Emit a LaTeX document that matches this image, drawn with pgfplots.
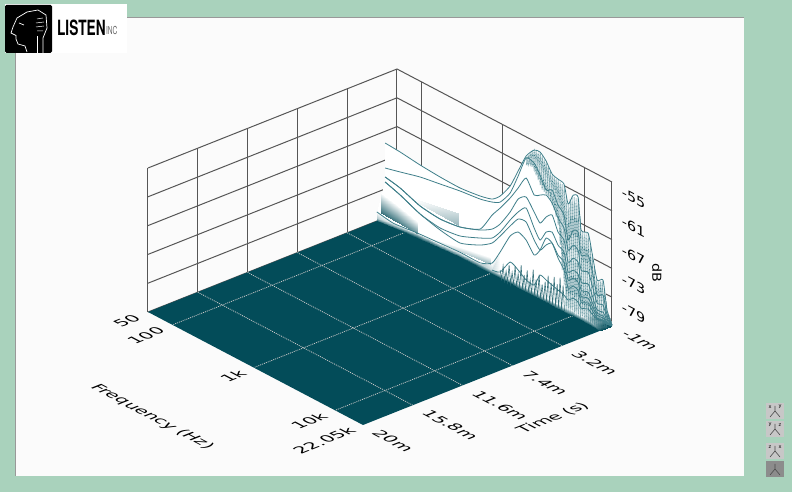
\documentclass[border=0pt]{standalone}
\usepackage{fontspec}
\setmainfont{DejaVu Sans}
\newfontfamily\logofont{TeX Gyre Heros}
\usepackage{pgfplots}
\usepackage{pgfplotstable}
\pgfplotsset{compat=1.18}

\definecolor{pagegreen}{HTML}{A9D2BC}
\definecolor{panel}{HTML}{FBFBFB}
\definecolor{floorc}{HTML}{034C59}
\definecolor{slicec}{HTML}{3F7F8A}
\definecolor{wallc}{HTML}{565656}

% waterfall: s = slice (0 is the base on the floor), lf = log10(Hz), t in ms, z in dB
\pgfplotstableread[row sep=\\]{
s lf t z\\
0 1.699 .7 -85\\ 0 1.8835 .55 -85\\ 0 2.1295 .3 -85\\ 0 2.3755 .15 -85\\ 0 2.6215 0 -85\\ 0 2.8675 0 -85\\ 0 3.015 0 -85\\ 0 3.1135 0 -85\\ 0 3.2365 0 -85\\ 0 3.335 0 -85\\ 0 3.433 0 -85\\ 0 3.532 0 -85\\ 0 3.605 0 -85\\ 0 3.679 0 -85\\ 0 3.743 0 -85\\ 0 3.803 0 -85\\ 0 3.863 0 -85\\ 0 3.9036 0 -85\\ 0 3.9538 0 -85\\ 0 4.004 0 -85\\ 0 4.034 0 -85\\ 0 4.104 0 -85\\ 0 4.144 0 -85\\ 0 4.194 0 -85\\ 0 4.254 0 -85\\ 0 4.294 0 -85\\ 0 4.3434 0 -85\\
.5 1.699 .7 -84.7\\ .5 1.8835 .55 -84.7\\ .5 2.1295 .3 -84.7\\ .5 2.3755 .15 -84.7\\ .5 2.6215 0 -84.7\\ .5 2.8675 0 -84.7\\ .5 3.015 0 -84.6\\ .5 3.1135 0 -84\\ .5 3.2365 0 -84\\ .5 3.335 0 -84\\ .5 3.433 0 -84\\ .5 3.532 0 -84\\ .5 3.605 0 -84\\ .5 3.679 0 -84\\ .5 3.743 0 -84\\ .5 3.803 0 -84\\ .5 3.863 0 -84\\ .5 3.9036 0 -84\\ .5 3.9538 0 -84\\ .5 4.004 0 -84\\ .5 4.034 0 -84\\ .5 4.104 0 -84\\ .5 4.144 0 -84\\ .5 4.194 0 -84.2\\ .5 4.254 0 -84.4\\ .5 4.294 0 -84.7\\ .5 4.3434 0 -85\\
1 1.699 .7 -84.3\\ 1 1.8835 .55 -84.3\\ 1 2.1295 .3 -84.3\\ 1 2.3755 .15 -84.3\\ 1 2.6215 0 -84.3\\ 1 2.8675 0 -84.3\\ 1 3.015 0 -84.2\\ 1 3.1135 0 -83.73\\ 1 3.2365 0 -80.54\\ 1 3.335 0 -81.33\\ 1 3.433 0 -82.54\\ 1 3.532 0 -82.71\\ 1 3.605 0 -79.98\\ 1 3.679 0 -80.35\\ 1 3.743 -.07 -80.92\\ 1 3.803 -.16 -81.52\\ 1 3.863 -.25 -82.1\\ 1 3.9036 -.32 -82.85\\ 1 3.9538 -.4 -82.08\\ 1 4.004 -.47 -82.54\\ 1 4.034 -.52 -83.56\\ 1 4.104 -.63 -83.25\\ 1 4.144 -.69 -84\\ 1 4.194 -.77 -84.67\\ 1 4.254 -.86 -84.65\\ 1 4.294 -.92 -85\\ 1 4.3434 -1 -85\\
2 1.699 .7 -83.1\\ 2 1.8835 .55 -84\\ 2 2.1295 .3 -84\\ 2 2.3755 .15 -84\\ 2 2.6215 0 -84\\ 2 2.8675 0 -84\\ 2 3.015 0 -82.73\\ 2 3.1135 0 -79.56\\ 2 3.2365 0 -75.12\\ 2 3.335 0 -73.42\\ 2 3.433 0 -74.21\\ 2 3.532 0 -76.46\\ 2 3.605 0 -74.77\\ 2 3.679 0 -71.6\\ 2 3.743 -.07 -72.17\\ 2 3.803 -.16 -74.85\\ 2 3.863 -.25 -76.9\\ 2 3.9036 -.32 -80.35\\ 2 3.9538 -.4 -79.58\\ 2 4.004 -.47 -80.04\\ 2 4.034 -.52 -82.31\\ 2 4.104 -.63 -82\\ 2 4.144 -.69 -83.17\\ 2 4.194 -.77 -84.46\\ 2 4.254 -.86 -84.44\\ 2 4.294 -.92 -84.98\\ 2 4.3434 -1 -84.81\\
3 1.699 0 -77.56\\ 3 1.8835 0 -78.62\\ 3 2.1295 0 -80.4\\ 3 2.3755 0 -81.54\\ 3 2.6215 0 -82.06\\ 3 2.8675 0 -80.29\\ 3 3.015 0 -78.56\\ 3 3.1135 0 -76.23\\ 3 3.2365 0 -73.04\\ 3 3.335 0 -70.71\\ 3 3.433 0 -70.46\\ 3 3.532 0 -73.33\\ 3 3.605 0 -74.77\\ 3 3.679 0 -73.06\\ 3 3.743 -.07 -72.17\\ 3 3.803 -.16 -74.23\\ 3 3.863 -.25 -75.23\\ 3 3.9036 -.32 -78.69\\ 3 3.9538 -.4 -77.92\\ 3 4.004 -.47 -78.37\\ 3 4.034 -.52 -81.06\\ 3 4.104 -.63 -80.96\\ 3 4.144 -.69 -82.33\\ 3 4.194 -.77 -83.83\\ 3 4.254 -.86 -84.02\\ 3 4.294 -.92 -84.77\\ 3 4.3434 -1 -84.81\\
4 1.699 0 -77.56\\ 4 1.8835 0 -78.62\\ 4 2.1295 0 -80.4\\ 4 2.3755 0 -81.12\\ 4 2.6215 0 -80.6\\ 4 2.8675 0 -78.83\\ 4 3.015 0 -77.52\\ 4 3.1135 0 -75.4\\ 4 3.2365 0 -71.79\\ 4 3.335 0 -69.25\\ 4 3.433 0 -67.54\\ 4 3.532 0 -70.83\\ 4 3.605 0 -72.69\\ 4 3.679 0 -70.35\\ 4 3.743 -.07 -69.87\\ 4 3.803 -.16 -72.15\\ 4 3.863 -.25 -73.15\\ 4 3.9036 -.32 -77.02\\ 4 3.9538 -.4 -76.25\\ 4 4.004 -.47 -76.71\\ 4 4.034 -.52 -79.81\\ 4 4.104 -.63 -79.71\\ 4 4.144 -.69 -81.5\\ 4 4.194 -.77 -83.42\\ 4 4.254 -.86 -83.6\\ 4 4.294 -.92 -84.56\\ 4 4.3434 -1 -84.81\\
5 1.699 0 -76.52\\ 5 1.8835 0 -77.17\\ 5 2.1295 0 -78.73\\ 5 2.3755 0 -79.25\\ 5 2.6215 0 -78.73\\ 5 2.8675 0 -77.17\\ 5 3.015 0 -75.65\\ 5 3.1135 0 -73.73\\ 5 3.2365 0 -70.12\\ 5 3.335 0 -66.54\\ 5 3.433 0 -65.25\\ 5 3.532 0 -67.5\\ 5 3.605 0 -69.15\\ 5 3.679 0 -67.23\\ 5 3.743 -.07 -66.33\\ 5 3.803 -.16 -69.44\\ 5 3.863 -.25 -70.65\\ 5 3.9036 -.32 -74.94\\ 5 3.9538 -.4 -73.75\\ 5 4.004 -.47 -74.21\\ 5 4.034 -.52 -78.15\\ 5 4.104 -.63 -78.04\\ 5 4.144 -.69 -80.04\\ 5 4.194 -.77 -82.79\\ 5 4.254 -.86 -82.77\\ 5 4.294 -.92 -84.15\\ 5 4.3434 -1 -84.81\\
6 1.699 0 -76.52\\ 6 1.8835 0 -77.17\\ 6 2.1295 0 -78.73\\ 6 2.3755 0 -79.25\\ 6 2.6215 0 -78.73\\ 6 2.8675 0 -76.96\\ 6 3.015 0 -72.73\\ 6 3.1135 0 -70.4\\ 6 3.2365 0 -67.21\\ 6 3.335 0 -64.25\\ 6 3.433 0 -61.29\\ 6 3.532 0 -63.96\\ 6 3.605 0 -63.31\\ 6 3.679 0 -62.65\\ 6 3.743 -.07 -63.83\\ 6 3.803 -.16 -66.52\\ 6 3.863 -.25 -68.15\\ 6 3.9036 -.32 -72.44\\ 6 3.9538 -.4 -71.04\\ 6 4.004 -.47 -71.71\\ 6 4.034 -.52 -75.65\\ 6 4.104 -.63 -75.54\\ 6 4.144 -.69 -77.96\\ 6 4.194 -.77 -81.33\\ 6 4.254 -.86 -81.31\\ 6 4.294 -.92 -83.73\\ 6 4.3434 -1 -84.81\\
7 1.699 0 -74.65\\ 7 1.8835 0 -73.83\\ 7 2.1295 0 -72.69\\ 7 2.3755 0 -71.96\\ 7 2.6215 0 -71.23\\ 7 2.8675 0 -70.71\\ 7 3.015 0 -70.02\\ 7 3.1135 0 -69.15\\ 7 3.2365 0 -66.17\\ 7 3.335 0 -61.75\\ 7 3.433 0 -57.12\\ 7 3.532 0 -57.29\\ 7 3.605 0 -59.15\\ 7 3.679 0 -61.6\\ 7 3.743 -.07 -61.12\\ 7 3.803 -.16 -63.81\\ 7 3.863 -.25 -65.44\\ 7 3.9036 -.32 -70.35\\ 7 3.9538 -.4 -67.92\\ 7 4.004 -.47 -67.96\\ 7 4.034 -.52 -72.52\\ 7 4.104 -.63 -72\\ 7 4.144 -.69 -74.83\\ 7 4.194 -.77 -79.67\\ 7 4.254 -.86 -79.23\\ 7 4.294 -.92 -83.1\\ 7 4.3434 -1 -84.81\\
8 1.699 0 -69.44\\ 8 1.8835 0 -69.67\\ 8 2.1295 0 -70.19\\ 8 2.3755 0 -70.5\\ 8 2.6215 0 -70.6\\ 8 2.8675 0 -70.08\\ 8 3.015 0 -69.4\\ 8 3.1135 0 -67.9\\ 8 3.2365 0 -64.71\\ 8 3.335 0 -60.71\\ 8 3.433 0 -56.71\\ 8 3.532 0 -54.58\\ 8 3.605 0 -54.35\\ 8 3.679 0 -55.56\\ 8 3.743 -.07 -57.79\\ 8 3.803 -.16 -58.4\\ 8 3.863 -.25 -58.98\\ 8 3.9036 -.32 -62.85\\ 8 3.9538 -.4 -60.62\\ 8 4.004 -.47 -60.67\\ 8 4.034 -.52 -67.31\\ 8 4.104 -.63 -67.42\\ 8 4.144 -.69 -71.29\\ 8 4.194 -.77 -76.54\\ 8 4.254 -.86 -76.1\\ 8 4.294 -.92 -82.06\\ 8 4.3434 -1 -84.81\\
}\wf

% dense ripple at the top end of the band, read off stroke by stroke
\pgfplotstableread[row sep=\\]{
lf t z\\
3.2875 -1 -59.2\\ 3.312 -1 -60.7\\ 3.337 -1 -58\\ 3.361 -1 -60.6\\ 3.386 -1 -57.1\\ 3.41 -1 -61.9\\ 3.435 -1 -56.9\\ 3.46 -1 -63.5\\ 3.484 -1 -57.25\\ 3.509 -1 -64.5\\ 3.533 -1 -58.1\\ 3.558 -1 -65.1\\ 3.583 -1 -59.5\\ 3.607 -1 -66.4\\ 3.632 -1 -60.3\\ 3.656 -1 -68.4\\ 3.681 -1 -60.5\\ 3.706 -1 -73.8\\ 3.73 -1 -60.9\\ 3.755 -1 -81.7\\ 3.779 -1 -63\\ 3.95 0 -84.7\\ 3.829 -1 -63.1\\ 3.999 0 -84.7\\ 3.878 -1 -62.3\\ 4.048 0 -84.7\\ 3.927 -1 -62.1\\ 4.098 0 -84.7\\ 3.976 -1 -68.5\\ 4.147 0 -84.7\\ 4.025 -1 -68.5\\ 4.196 0 -84.7\\ 4.075 -1 -70.3\\ 4.245 0 -84.7\\ 4.124 -1 -74.5\\ 4.294 0 -84.7\\ 4.173 -1 -77.2\\ 4.343 0 -84.7\\ 4.222 -1 -76.7\\ 4.32 -.5 -85\\ 4.271 -1 -80.5\\ 4.296 -1 -85\\ 4.321 -1 -84.6\\ 4.343 -1 -85\\
}\ripA
\pgfplotstableread[row sep=\\]{
lf t z\\
3.2875 -1 -60.9\\ 3.312 -1 -58.6\\ 3.337 -1 -60.4\\ 3.361 -1 -57.5\\ 3.386 -1 -61\\ 3.41 -1 -56.9\\ 3.435 -1 -62.7\\ 3.46 -1 -56.8\\ 3.484 -1 -64.3\\ 3.509 -1 -57.7\\ 3.533 -1 -65\\ 3.558 -1 -58.7\\ 3.583 -1 -65.5\\ 3.607 -1 -60.1\\ 3.632 -1 -67.2\\ 3.656 -1 -60.5\\ 3.681 -1 -69.9\\ 3.706 -1 -60.7\\ 3.73 -1 -78.8\\ 3.755 -1 -60.9\\ 3.925 0 -84.7\\ 3.804 -1 -64.6\\ 3.9745 0 -84.7\\ 3.853 -1 -62.3\\ 4.024 0 -84.7\\ 3.902 -1 -62.3\\ 4.073 0 -84.7\\ 3.952 -1 -65.6\\ 4.122 0 -84.7\\ 4.001 -1 -68.5\\ 4.171 0 -84.7\\ 4.05 -1 -68.5\\ 4.221 0 -84.7\\ 4.099 -1 -72.2\\ 4.27 0 -84.7\\ 4.148 -1 -76.8\\ 4.319 0 -84.7\\ 4.198 -1 -76.95\\ 4.295 -.5 -85\\ 4.247 -1 -78.2\\ 4.343 -.5 -85\\ 4.296 -1 -82.95\\ 4.321 -1 -85\\ 4.343 -1 -85\\
}\ripB
% short streaks that stand on the floor in the middle of the band
\pgfplotstableread[row sep=\\]{
lf t z\\
3.1135 0 -83.3\\ 3.132 0 -85\\ 3.15 0 -82.1\\ 3.168 0 -85\\ 3.187 0 -82.9\\ 3.205 0 -85\\ 3.224 0 -81.3\\ 3.242 0 -85\\ 3.261 0 -82.5\\ 3.279 0 -85\\ 3.298 0 -80.8\\ 3.316 0 -85\\ 3.335 0 -82.1\\ 3.353 0 -85\\ 3.372 0 -80\\ 3.39 0 -85\\ 3.409 0 -81.7\\ 3.427 0 -85\\ 3.446 0 -80.4\\ 3.464 0 -85\\ 3.483 0 -82.1\\ 3.501 0 -85\\ 3.52 0 -79.6\\ 3.538 0 -85\\ 3.556 0 -81.3\\ 3.574 0 -85\\ 3.593 0 -80\\ 3.611 0 -85\\ 3.63 0 -81.7\\ 3.648 0 -85\\ 3.667 0 -80.8\\ 3.685 0 -85\\ 3.704 0 -79.2\\ 3.722 0 -85\\ 3.741 0 -80.4\\ 3.759 0 -85\\ 3.778 0 -78.8\\ 3.796 0 -85\\ 3.815 0 -80\\ 3.833 0 -85\\ 3.851 0 -78.3\\ 3.869 0 -85\\ 3.888 0 -79.6\\ 3.906 0 -85\\
}\ripC

\begin{document}
\begin{tikzpicture}
\begin{scope}[x=1pt,y=-1pt,yshift=492pt]
  \fill[pagegreen] (0,0) rectangle (792,492);
  \fill[panel] (15,17) rectangle (744,476);
  \draw[black!40,line width=.5pt] (15,476) -- (15,17) -- (744,17);
\end{scope}

\begin{axis}[
    at={(148pt,67pt)}, anchor=south west,
    x={(81.30pt,-42.73pt)}, y={(-11.857pt,-4.714pt)}, z={(0pt,4.8pt)},
    xmin=1.699, xmax=4.3434, ymin=-1, ymax=20, zmin=-85, zmax=-55,
    3d box=background,
    clip=false,
    axis line style={draw=none},
    major tick length=0pt,
    xtick={1.699,2,3,4,4.3434}, xticklabels={50,100,1k,10k,22.05k},
    ytick={-1,3.2,7.4,11.6,15.8,20}, yticklabels={-1m,3.2m,7.4m,11.6m,15.8m,20m},
    ztick={-85,-79,-73,-67,-61,-55}, zticklabels={,-79,-73,-67,-61,-55},
    tick label style={font=\fontsize{13}{13}\selectfont},
    xticklabel style={cm={1.255,.5,-1.02,.535,(0,0)},anchor=east,inner xsep=8.5pt},
    yticklabel style={cm={1.195,-.63,1.07,.425,(0,0)},anchor=west,inner xsep=10.5pt},
    zticklabel style={xshift=6pt,yshift=-8pt,cm={1.1,-.58,0,1,(0,0)},anchor=west},
    zticklabel pos=right,
    colormap={tealwhite}{color=(floorc) color=(white)},
    point meta min=-85, point meta max=-84,
]
% the walls: dB lines on both, tick lines up each
\pgfplotsinvokeforeach{-85,-79,-73,-67,-61,-55}{
  \addplot3[wallc,line width=1pt,forget plot] coordinates {(1.699,20,#1) (1.699,-1,#1) (4.3434,-1,#1)};
}
\pgfplotsinvokeforeach{1.699,2,3,4,4.3434}{
  \addplot3[wallc,line width=1pt,forget plot] coordinates {(#1,-1,-85) (#1,-1,-55)};
}
\pgfplotsinvokeforeach{3.2,7.4,11.6,15.8,20}{
  \addplot3[wallc,line width=1pt,forget plot] coordinates {(1.699,#1,-85) (1.699,#1,-55)};
}
% floor and its dotted grid
\addplot3[fill=floorc,draw=none,forget plot] coordinates {(1.699,-1,-85) (4.3434,-1,-85) (4.3434,20,-85) (1.699,20,-85)} --cycle;
\pgfplotsinvokeforeach{2,3,4}{
  \addplot3[black!22,dash pattern=on 1pt off 1pt,line width=.8pt,forget plot] coordinates {(#1,-1,-85) (#1,20,-85)};
}
\pgfplotsinvokeforeach{3.2,7.4,11.6,15.8}{
  \addplot3[black!22,dash pattern=on 1pt off 1pt,line width=.8pt,forget plot] coordinates {(1.699,#1,-85) (4.3434,#1,-85)};
}
% the surface itself
\addplot3[surf,shader=interp,mesh/cols=27,forget plot] table[x=lf,y=t,z=z] {\wf};
% pale washes on the low end
\addplot3[surf,shader=interp,mesh/cols=3,point meta=explicit,forget plot] table[x=lf,y=t,z=z,meta=m] {
lf t z m
1.699 .35 -83.7 -84.8
1.899 .35 -83.8 -84.73
2.149 .35 -84.0 -84.6
1.699 .35 -79.5 -84
1.899 .35 -80.2 -84
2.149 .35 -81.5 -84
};
\addplot3[surf,shader=interp,mesh/cols=2,point meta=explicit,forget plot] table[x=lf,y=t,z=z,meta=m] {
lf t z m
2.043 0 -78.25 -84
2.597 0 -78.54 -84.4
2.043 0 -77.83 -84
2.597 0 -76.04 -84.2
};
\addplot3[surf,shader=interp,mesh/cols=2,point meta=explicit,forget plot] table[x=lf,y=t,z=z,meta=m] {
lf t z m
2.1295 0 -84.56 -84
2.991 0 -83.17 -84.4
2.1295 0 -84.15 -84
2.991 0 -81.7 -84
};
% one line per time slice
\pgfplotsinvokeforeach{2,...,8}{
  \addplot3[slicec,line width=.8pt,smooth,tension=.35,forget plot,restrict expr to domain={\thisrow{s}}{#1:#1}] table[x=lf,y=t,z=z] {\wf};
}
\addplot3[slicec,line width=.8pt,smooth,tension=.35,forget plot,restrict expr to domain={\thisrow{s}}{1:1},restrict x to domain=3.015:4.35] table[x=lf,y=t,z=z] {\wf};
% ripple texture
\addplot3[slicec,line width=.55pt,dash pattern=on 1pt off .5pt,forget plot] table[x=lf,y=t,z=z] {\ripA};
\addplot3[slicec,line width=.55pt,dash pattern=on 1pt off .5pt,forget plot] table[x=lf,y=t,z=z] {\ripB};
\addplot3[floorc!80!white,line width=.6pt,forget plot] table[x=lf,y=t,z=z] {\ripC};
\end{axis}

% axis titles, logo and the view buttons, in image pixels
\begin{scope}[x=1pt,y=-1pt,yshift=492pt]
  \node[cm={1.195,-.63,1.07,.425,(0,0)},font=\fontsize{13}{13}\selectfont] at (152,417) {Frequency (Hz)};
  \node[cm={1.255,.5,-1.02,.535,(0,0)},font=\fontsize{13}{13}\selectfont] at (553,418) {Time (s)};
  \node[cm={0,-1.1,.95,0,(0,0)},font=\fontsize{13}{13}\selectfont] at (657,273) {dB};
  \fill[white] (5,4) rectangle (127,53);
  \fill[black,rounded corners=1.5pt] (5,5) rectangle (52,53);
  \draw[white,line width=.7pt] (27,52) -- (25,46) -- (18,44) -- (16,39) -- (16,35.5) -- (11,33) -- (13,27) -- (17,18) -- (27,12) -- (38,10) -- (46,15) -- (47,28) -- (43,38) -- (43,53);
  \draw[white,line width=.7pt] (37,53) -- (37,36);
  \draw[white,line width=.7pt] (19,23) -- (24,25);
  \draw[white,line width=.5pt] (37,19) -- (43,18) (36,23) -- (44,22) (36,27) -- (44,26) (37,31) -- (43,31);
  \node[anchor=west,inner sep=0pt,xscale=.65,font=\logofont\bfseries\fontsize{21}{21}\selectfont] at (57,28) {LISTEN};
  \node[anchor=west,inner sep=0pt,xscale=.6,text=black!60,font=\logofont\fontsize{11}{11}\selectfont] at (106,30) {INC};
  \foreach \yy/\aa/\bb/\ff in {403/x/y/black!22,421/y/z/black!22,443/z/x/black!22,461/{}/{}/black!45}{
    \fill[\ff] (766,\yy) rectangle (784,\yy+16);
    \draw[black!70,line width=.6pt] (775,\yy+8) -- (775,\yy+3) (775,\yy+8) -- (770,\yy+14) (775,\yy+8) -- (780,\yy+14);
    \node[inner sep=0pt,font=\fontsize{5}{5}\selectfont] at (770,\yy+4) {\aa};
    \node[inner sep=0pt,font=\fontsize{5}{5}\selectfont] at (780,\yy+4) {\bb};
  }
\end{scope}
\pgfresetboundingbox
\useasboundingbox (0pt,0pt) rectangle (792pt,492pt);
\end{tikzpicture}
\end{document}
